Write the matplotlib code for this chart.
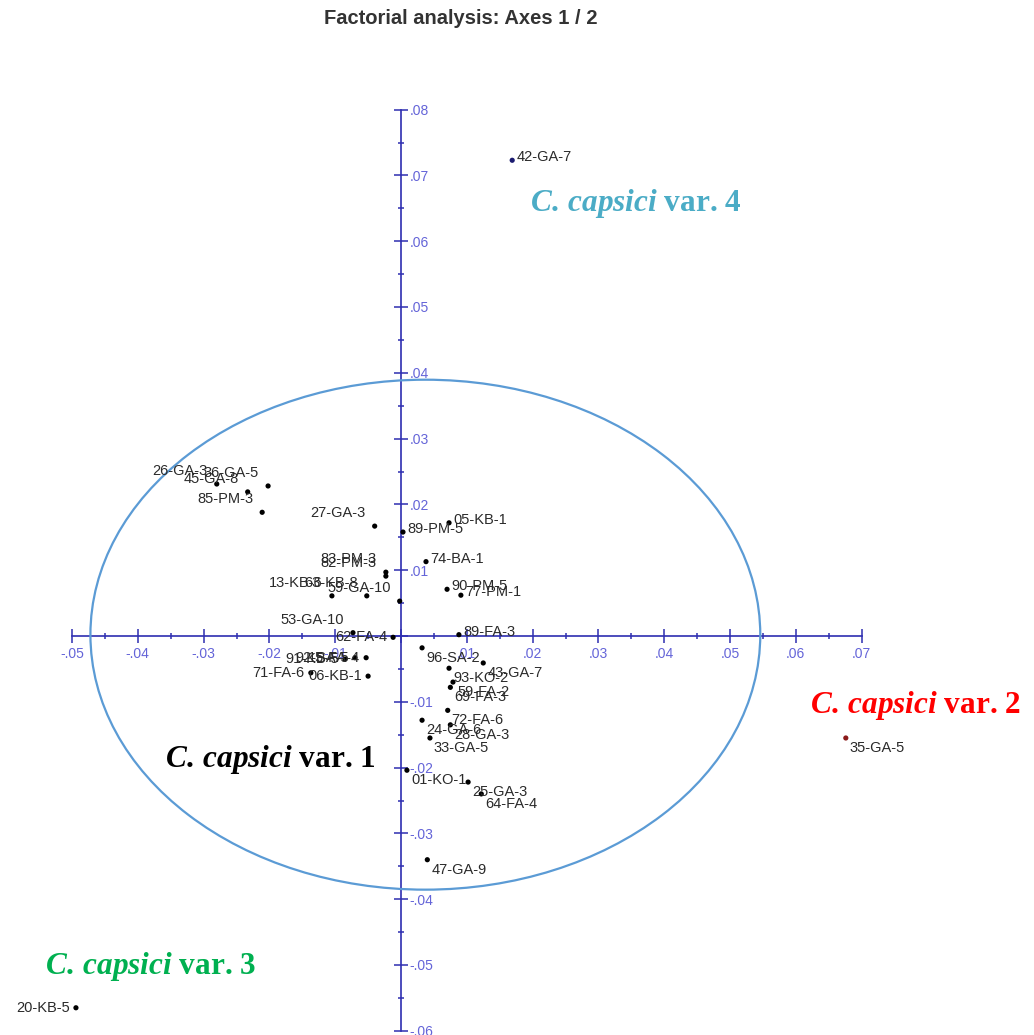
import matplotlib
matplotlib.use('Agg')
import matplotlib.pyplot as plt
import numpy as np
from matplotlib.patches import Ellipse
from matplotlib.ticker import FixedLocator, FuncFormatter

plt.rcParams['mathtext.fontset'] = 'custom'
plt.rcParams['mathtext.it'] = 'Liberation Serif:style=italic:weight=bold'
plt.rcParams['mathtext.rm'] = 'Liberation Serif:weight=bold'

################################################################################
# DATA: coordinates of the isolates on factorial axes 1 and 2

names = [
    '42-GA-7', '35-GA-5', '20-KB-5', '47-GA-9',
    '26-GA-3', '36-GA-5', '45-GA-8', '85-PM-3', '27-GA-3',
    '89-PM-5', '05-KB-1', '74-BA-1', '83-PM-3', '82-PM-3',
    '13-KB-6', '63-KB-8', '59-GA-10', '90-PM-5', '77-PM-1',
    '53-GA-10', '62-FA-4', '89-FA-3', '96-SA-2', '93-KO-2',
    '43-GA-7', '59-FA-2', '69-FA-3', '72-FA-6', '24-GA-6',
    '28-GA-3', '33-GA-5', '01-KO-1', '25-GA-3', '64-FA-4',
    '91-KB-5', '92-SA-5', '15-FA-4', '71-FA-6', '06-KB-1',
]
axis1 = [
    0.0169, 0.0676, -0.0494, 0.0040,
    -0.0280, -0.0202, -0.0233, -0.0211, -0.0040,
    0.0003, 0.0073, 0.0038, -0.0023, -0.0023,
    -0.0105, -0.0052, -0.0002, 0.0070, 0.0091,
    -0.0073, -0.0012, 0.0088, 0.0032, 0.0073,
    0.0125, 0.0079, 0.0075, 0.0071, 0.0032,
    0.0075, 0.0044, 0.0009, 0.0102, 0.0122,
    -0.0085, -0.0070, -0.0053, -0.0137, -0.0050,
]
axis2 = [
    0.0723, -0.0155, -0.0565, -0.0340,
    0.0231, 0.0228, 0.0219, 0.0188, 0.0167,
    0.0158, 0.0172, 0.0113, 0.0097, 0.0091,
    0.0061, 0.0061, 0.0053, 0.0071, 0.0062,
    0.0005, -0.0002, 0.0002, -0.0018, -0.0049,
    -0.0041, -0.0070, -0.0078, -0.0113, -0.0128,
    -0.0135, -0.0155, -0.0204, -0.0222, -0.0240,
    -0.0035, -0.0033, -0.0033, -0.0056, -0.0061,
]

x_range = (-0.05, 0.07)
y_range = (-0.06, 0.08)

groups = ['var. 1', 'var. 2', 'var. 3', 'var. 4']
group_x = [-0.0359, 0.0621, -0.0541, 0.0196]
group_y = [-0.0188, -0.0105, -0.0502, 0.0657]
group_colors = ['black', '#ff0000', '#00b050', '#4bacc6']

# main cluster (var. 1) ellipse
ellipse_center = (0.0037, 0.0002)
ellipse_size = (0.1018, 0.0775)

################################################################################

PX = 6580  # pixels per unit on both axes
AXIS_COL = '#2e2eb0'
TICK_COL = '#6464d8'

fig = plt.figure(figsize=(10.34, 10.35), dpi=100)
ax = fig.add_axes([0, 0, 1, 1])
ax.set_xlim(-401 / PX, 633 / PX)
ax.set_ylim(-399 / PX, 636 / PX)

for side in ('top', 'left'):
    ax.spines[side].set_visible(False)
ax.spines['bottom'].set_position(('data', 0))
ax.spines['bottom'].set_bounds(*x_range)
ax.spines['right'].set_position(('data', 0))
ax.spines['right'].set_bounds(*y_range)
for side in ('bottom', 'right'):
    ax.spines[side].set_color(AXIS_COL)
    ax.spines[side].set_linewidth(1.2)
ax.xaxis.set_ticks_position('bottom')
ax.yaxis.set_ticks_position('right')


def fmt(v, pos):
    if abs(v) < 1e-9:
        return ''
    return f'{v:.2f}'.replace('0.', '.', 1)


for axis, (lo, hi) in ((ax.xaxis, x_range), (ax.yaxis, y_range)):
    major = np.round(np.arange(lo, hi + 1e-9, 0.01), 3)
    minor = np.round(np.arange(lo + 0.005, hi, 0.01), 4)
    axis.set_major_locator(FixedLocator(major))
    axis.set_minor_locator(FixedLocator(minor))
    axis.set_major_formatter(FuncFormatter(fmt))
ax.tick_params(which='major', direction='inout', length=10, width=1.1,
               color=AXIS_COL, labelcolor=TICK_COL, labelsize=10)
ax.tick_params(which='minor', direction='inout', length=5, width=1.1,
               color=AXIS_COL)
ax.tick_params(axis='x', which='major', pad=3)
ax.tick_params(axis='y', which='major', pad=1)
for lab in ax.get_xticklabels() + ax.get_yticklabels():
    lab.set_fontfamily('Liberation Sans')

ax.add_patch(Ellipse(ellipse_center, *ellipse_size, fill=False,
                     edgecolor='#5b9bd5', linewidth=1.6, zorder=4))

dot_colors = {'42-GA-7': '#1c1c70', '35-GA-5': '#8b1a1a'}
colors = [dot_colors.get(n, 'black') for n in names]
ax.scatter(axis1, axis2, s=14, c=colors, zorder=5, linewidths=0)

for name, x, y in zip(names, axis1, axis2):
    if x >= 0:
        dx, dy, ha = 4, (3 if y >= 0 else -10), 'left'
    else:
        dx, dy, ha = (-9, 13, 'right') if y >= 0 else (-6, 0, 'right')
    ax.annotate(name, (x, y), xytext=(dx, dy), textcoords='offset pixels',
                ha=ha, va='center', fontsize=10.5, color='#2a2a2a',
                family='Liberation Sans', zorder=6)

for label, x, y, c in zip(groups, group_x, group_y, group_colors):
    ax.text(x, y, r'$\mathit{C.\,capsici}$ ' + label, color=c,
            fontsize=22.5, family='Liberation Serif', weight='bold',
            ha='left', va='center')

fig.text(461 / 1034, 1 - 18 / 1035, 'Factorial analysis: Axes 1 / 2',
         ha='center', va='center', fontsize=14.5, weight='bold',
         family='Liberation Sans', color='#333333')

fig.savefig('out.png', dpi=100)
